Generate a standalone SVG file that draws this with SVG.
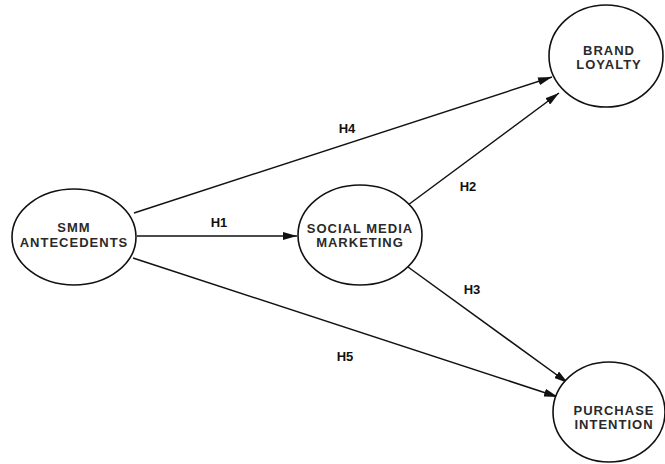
<svg xmlns="http://www.w3.org/2000/svg" width="665" height="464" viewBox="0 0 665 464">
<style>
.node ellipse{fill:#fff;stroke:#111;stroke-width:1.6}
.node text{font-family:"Liberation Sans",Arial,sans-serif;font-weight:bold;font-size:13px;fill:#2a2a2a;text-anchor:middle;letter-spacing:1px}
.edges line{stroke:#111;stroke-width:1.5;marker-end:url(#arr)}
.lbl{font-family:"Liberation Sans",Arial,sans-serif;font-weight:bold;font-size:13px;fill:#111;text-anchor:middle}
</style>
<defs>
<marker id="arr" viewBox="0 0 14 8" refX="14" refY="4" markerWidth="14" markerHeight="8" markerUnits="userSpaceOnUse" orient="auto">
<path d="M0,0 L14,4 L0,8 Z" fill="#111"/>
</marker>
</defs>
<rect width="665" height="464" fill="#fff"/>
<g class="edges">
<line x1="134" y1="213" x2="552" y2="77"/>
<line x1="408" y1="205" x2="559" y2="93"/>
<line x1="137" y1="236" x2="297" y2="236"/>
<line x1="408" y1="267" x2="568" y2="383"/>
<line x1="133" y1="258" x2="558" y2="397"/>
</g>
<g class="labels">
<text class="lbl" x="347" y="133">H4</text>
<text class="lbl" x="219" y="227">H1</text>
<text class="lbl" x="468" y="191">H2</text>
<text class="lbl" x="472" y="294">H3</text>
<text class="lbl" x="345" y="361">H5</text>
</g>
<g id="smm" class="node">
<ellipse cx="74" cy="237" rx="62" ry="48"/>
<text x="74" y="232">SMM</text>
<text x="74" y="247">ANTECEDENTS</text>
</g>
<g id="smmk" class="node">
<ellipse cx="360" cy="235" rx="62" ry="50"/>
<text x="360" y="233">SOCIAL MEDIA</text>
<text x="360" y="247">MARKETING</text>
</g>
<g id="brand" class="node">
<ellipse cx="606" cy="56" rx="57" ry="51"/>
<text x="609" y="55">BRAND</text>
<text x="609" y="69">LOYALTY</text>
</g>
<g id="purchase" class="node">
<ellipse cx="609" cy="412" rx="56" ry="50"/>
<text x="614" y="415">PURCHASE</text>
<text x="614" y="429">INTENTION</text>
</g>
</svg>
